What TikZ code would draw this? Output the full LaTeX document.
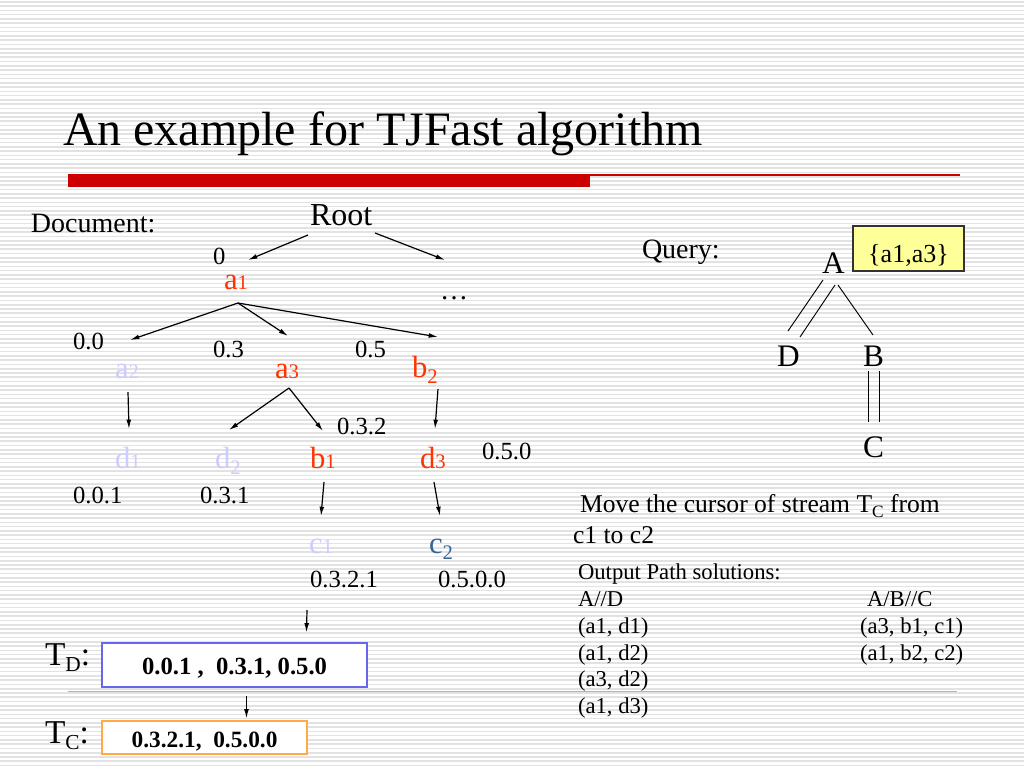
\documentclass[tikz,border=0pt]{standalone}
\usepackage{fontspec}
\setmainfont{Liberation Serif}
\usetikzlibrary{arrows.meta}
\definecolor{stripe}{HTML}{E2E2E2}
\definecolor{tjred}{HTML}{CC0000}
\definecolor{nred}{HTML}{FF3300}
\definecolor{lav}{HTML}{CCCCFF}
\definecolor{steel}{HTML}{336699}
\definecolor{tdblue}{HTML}{6666EE}
\definecolor{tcorange}{HTML}{FFAA44}
\definecolor{qyellow}{HTML}{FFFF99}
\definecolor{pinkline}{HTML}{D4A5A5}
\newcommand\fs[1]{\fontsize{#1}{#1}\selectfont}
\newcommand\lb[2]{{\fs{23}#1}{\fs{15.5}#2}}
\newcommand\lbsub[2]{{\fs{23}#1}\raisebox{-4.5pt}{\fs{15.5}#2}}
\newcommand\tsub[3]{\raisebox{-#3}{\fs{#2}#1}}
\begin{document}
\begin{tikzpicture}[x=0.75pt,y=-0.75pt,
  txt/.style={anchor=base west,inner sep=0pt,outer sep=0pt},
  num/.style={txt,font={\fs{18.5}}},
  lbl/.style={txt},
  arr/.style={-{Latex[length=7pt,width=3.6pt]},line width=0.9pt},
  qline/.style={line width=0.7pt},
  small/.style={txt,font={\fs{17}}}]
\useasboundingbox (0,0) rectangle (1024,768);
\fill[white] (0,0) rectangle (1024,768);
\foreach \i in {0,...,179} \fill[stripe] (0,{\i*4.2667+1}) rectangle (1024,{\i*4.2667+2.6});
% title
\node[txt,font={\fs{36}}] (title) at (63,145) {An example for TJFast algorithm};
\fill[tjred] (68,174) rectangle (590,187);
\draw[tjred,line width=0.8pt] (590,175) -- (960,175);
\draw[pinkline,line width=0.7pt] (68,691) -- (957,691);
% document tree
\node[txt,font={\fs{21}}] (doc) at (31,232) {Document:};
\node[txt,font={\fs{24}}] (root) at (310,225) {Root};
\node[num] (n0) at (213,264) {0};
\node[lbl,text=nred] (a1) at (224,289) {\lb{a}{1}};
\node[txt,font={\fs{21}}] (dots) at (440,299) {…};
\node[num] (n00) at (73,349) {0.0};
\node[num] (n03) at (213,357) {0.3};
\node[num] (n05) at (355,357) {0.5};
\node[lbl,text=lav] (a2) at (115,378) {\lb{a}{2}};
\node[lbl,text=nred] (a3) at (275,378) {\lb{a}{3}};
\node[lbl,text=nred] (b2) at (412,377) {\lbsub{b}{2}};
\node[num] (n032) at (337,434) {0.3.2};
\node[num] (n050) at (482,459) {0.5.0};
\node[lbl,text=lav] (d1) at (115,468) {\lb{d}{1}};
\node[lbl,text=lav] (d2) at (215,468) {\lbsub{d}{2}};
\node[lbl,text=nred] (b1) at (310,468) {\lb{b}{1}};
\node[lbl,text=nred] (d3) at (420,468) {\lb{d}{3}};
\node[num] (n001) at (73,503) {0.0.1};
\node[num] (n031) at (200,503) {0.3.1};
\node[lbl,text=lav] (c1) at (309,553) {\lb{c}{1}};
\node[lbl,text=steel] (c2) at (429,553) {\lbsub{c}{2}};
\node[num] (n0321) at (310,587) {0.3.2.1};
\node[num] (n0500) at (438,587) {0.5.0.0};
% tree arrows
\draw[arr] ([shift={(-2,10)}]root.base west) -- ([shift={(24,-29)}]a1.base west);
\draw[arr] ([shift={(65,8)}]root.base west) -- ([shift={(5,-39)}]dots.base west);
\draw[arr] ([shift={(14,14)}]a1.base west) -- ([shift={(15,-38)}]a2.base west);
\draw[arr] ([shift={(14,14)}]a1.base west) -- ([shift={(13,-42)}]a3.base west);
\draw[arr] ([shift={(14,14)}]a1.base west) -- ([shift={(26,-40)}]b2.base west);
\draw[arr] ([shift={(13,14)}]a2.base west) -- ([shift={(14,-39)}]d1.base west);
\draw[arr] ([shift={(14,10)}]a3.base west) -- ([shift={(14,-38)}]d2.base west);
\draw[arr] ([shift={(14,10)}]a3.base west) -- ([shift={(13,-37)}]b1.base west);
\draw[arr] ([shift={(26,12)}]b2.base west) -- ([shift={(15,-39)}]d3.base west);
\draw[arr] ([shift={(14,14)}]b1.base west) -- ([shift={(12,-37)}]c1.base west);
\draw[arr] ([shift={(14,14)}]d3.base west) -- ([shift={(11,-37)}]c2.base west);
% streams
\node[txt,font={\fs{25}}] (tdl) at (45,665) {T\tsub{D}{16}{5.2pt}:};
\node[draw=tdblue,line width=0.8pt,fill=white,minimum width=265*0.75pt,minimum height=44*0.75pt,inner sep=0pt,text height=13.5pt,text depth=0pt,font={\fs{18.5}\bfseries}] (tdbox) at (234.5,665) {0.0.1 ,\ \ 0.3.1, 0.5.0};
\node[txt,font={\fs{25}}] (tcl) at (45,743) {T\tsub{C}{16}{5.2pt}:};
\node[draw=tcorange,line width=0.8pt,fill=white,minimum width=205*0.75pt,minimum height=33*0.75pt,inner sep=0pt,text height=14.25pt,text depth=0pt,font={\fs{17.5}\bfseries}] (tcbox) at (204.5,737.5) {0.3.2.1,\ \ 0.5.0.0};
\draw[arr] ([shift={(-3,23)}]n0321.base west) -- ([shift={(205,-10)}]tdbox.north west);
\draw[arr] ([shift={(145,8)}]tdbox.south west) -- ([shift={(145,-2)}]tcbox.north west);
% query
\node[txt,font={\fs{21}}] (query) at (642,258) {Query:};
\node[txt,font={\fs{23.5}}] (qA) at (822,273) {A};
\node[draw=black!80,line width=0.8pt,fill=qyellow,minimum width=111*0.75pt,minimum height=45*0.75pt,inner sep=0pt,text height=20.25pt,text depth=0pt,font={\fs{19.5}}] (qset) at (908.5,248.5) {\{a1,a3\}};
\node[txt,font={\fs{23.5}}] (qD) at (777,366) {D};
\node[txt,font={\fs{23.5}}] (qB) at (863,366) {B};
\node[txt,font={\fs{23.5}}] (qC) at (863,457) {C};
\draw[qline] ([shift={(1,7)}]qA.base west) -- ([shift={(11,-35)}]qD.base west);
\draw[qline] ([shift={(13,12)}]qA.base west) -- ([shift={(23,-29)}]qD.base west);
\draw[qline] ([shift={(16,12)}]qA.base west) -- ([shift={(10,-31)}]qB.base west);
\draw[qline] ([shift={(5,5)}]qB.base west) -- ([shift={(5,-35)}]qC.base west);
\draw[qline] ([shift={(16,5)}]qB.base west) -- ([shift={(16,-35)}]qC.base west);
% explanation
\node[txt,font={\fs{19.2}}] (move) at (580,512) {Move the cursor of stream T\tsub{C}{13}{4pt} from};
\node[txt,font={\fs{19.2}}] (move2) at (573,543) {c1 to c2};
\node[small] (out) at (578,579) {Output Path solutions:};
\node[small] (h1) at (578,606) {A//D};
\node[small] (r1) at (578,633) {(a1, d1)};
\node[small] (r2) at (578,660) {(a1, d2)};
\node[small] (r3) at (578,686) {(a3, d2)};
\node[small] (r4) at (578,713) {(a1, d3)};
\node[small] (h2) at (867,606) {A/B//C};
\node[small] (s1) at (860,633) {(a3, b1, c1)};
\node[small] (s2) at (860,660) {(a1, b2, c2)};
\end{tikzpicture}
\end{document}
